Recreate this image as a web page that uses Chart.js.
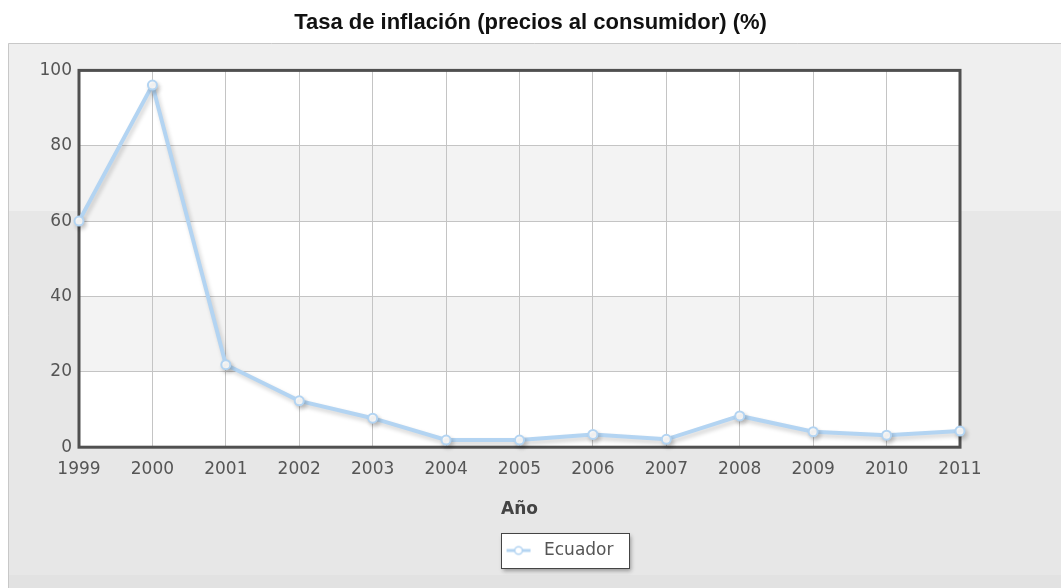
<!DOCTYPE html>
<html>
<head>
<meta charset="utf-8">
<script src="https://cdn.jsdelivr.net/npm/chart.js@4"></script>
<style>
  html, body { margin: 0; padding: 0; background: #fff; }
  #wrap { width: 1061px; height: 588px; position: relative; }
</style>
</head>
<body>
<div id="wrap"><canvas id="inflChart" width="1061" height="588"></canvas></div>
<script>
// Datos del gráfico
const years = ['1999', '2000', '2001', '2002', '2003', '2004', '2005', '2006', '2007', '2008', '2009', '2010', '2011'];
const ecuador = [60.0, 96.1, 21.9, 12.3, 7.7, 1.9, 1.9, 3.4, 2.1, 8.3, 4.1, 3.2, 4.3];
const yTicks = [0, 20, 40, 60, 80, 100];

const lineColor = '#b3d4f2';
const legendShift = 27; // la leyenda no está centrada en el original

// Icono de la leyenda: línea con círculo
function legendIcon() {
  const c = document.createElement('canvas');
  c.width = 26; c.height = 12;
  const g = c.getContext('2d');
  g.strokeStyle = lineColor;
  g.lineWidth = 3;
  g.beginPath(); g.moveTo(1, 6); g.lineTo(25, 6); g.stroke();
  g.fillStyle = '#fff';
  g.lineWidth = 1.5;
  g.beginPath(); g.arc(13, 6, 3.8, 0, Math.PI * 2); g.fill(); g.stroke();
  return c;
}

// Fondo del panel, bandas y borde del área de trazado
const decoPlugin = {
  id: 'deco',
  afterLayout(chart) {
    const lg = chart.legend;
    if (lg) { lg.left += legendShift; lg.right += legendShift; }
  },
  beforeDraw(chart) {
    const ctx = chart.ctx;
    const area = chart.chartArea;
    const y = chart.scales.y;
    ctx.save();
    ctx.fillStyle = '#ffffff';
    ctx.fillRect(0, 0, chart.width, chart.height);
    ctx.fillStyle = '#efefef';
    ctx.fillRect(8, 43, chart.width - 8, 168);
    ctx.fillStyle = '#e7e7e7';
    ctx.fillRect(8, 211, chart.width - 8, 364);
    ctx.fillStyle = '#e2e2e2';
    ctx.fillRect(8, 575, chart.width - 8, chart.height - 575);
    ctx.strokeStyle = '#c8c8c8';
    ctx.lineWidth = 1;
    ctx.beginPath();
    ctx.moveTo(8.5, chart.height); ctx.lineTo(8.5, 43.5); ctx.lineTo(chart.width, 43.5);
    ctx.stroke();
    // área de trazado
    ctx.fillStyle = '#ffffff';
    ctx.fillRect(area.left, area.top, area.right - area.left, area.bottom - area.top);
    ctx.fillStyle = '#f3f3f3';
    [[20, 40], [60, 80]].forEach(b => {
      const t = y.getPixelForValue(b[1]);
      const bt = y.getPixelForValue(b[0]);
      ctx.fillRect(area.left, t, area.right - area.left, bt - t);
    });
    ctx.restore();
  },
  beforeDatasetsDraw(chart) {
    const ctx = chart.ctx;
    const a = chart.chartArea;
    ctx.save();
    ctx.strokeStyle = '#505050';
    ctx.lineWidth = 3;
    ctx.strokeRect(a.left, a.top, a.right - a.left, a.bottom - a.top);
    ctx.restore();
  },
  beforeDatasetDraw(chart) {
    const ctx = chart.ctx;
    ctx.save();
    ctx.shadowColor = 'rgba(0,0,0,0.18)';
    ctx.shadowBlur = 4;
    ctx.shadowOffsetX = 2;
    ctx.shadowOffsetY = 3;
  },
  afterDatasetDraw(chart) {
    chart.ctx.restore();
  },
  afterDraw(chart) {
    // recuadro de la leyenda
    const lg = chart.legend;
    if (!lg || !lg.legendHitBoxes.length) return;
    const hb = lg.legendHitBoxes[0];
    const ctx = chart.ctx;
    const cy = hb.top + hb.height / 2;
    const x = Math.round(hb.left - 1), yTop = Math.round(cy - 17), w = Math.round(hb.width + 16), h = 35;
    ctx.save();
    ctx.shadowColor = 'rgba(0,0,0,0.35)';
    ctx.shadowBlur = 4;
    ctx.shadowOffsetX = 2;
    ctx.shadowOffsetY = 3;
    ctx.fillStyle = '#fff';
    ctx.fillRect(x, yTop, w, h);
    ctx.restore();
    ctx.save();
    ctx.strokeStyle = '#444';
    ctx.lineWidth = 1;
    ctx.strokeRect(x + 0.5, yTop + 0.5, w, h);
    ctx.restore();
    // volver a dibujar la leyenda encima del recuadro
    lg.draw();
  }
};

const ctx = document.getElementById('inflChart').getContext('2d');
new Chart(ctx, {
  type: 'line',
  data: {
    labels: years,
    datasets: [{
      label: 'Ecuador',
      data: ecuador,
      borderColor: lineColor,
      borderWidth: 4,
      backgroundColor: '#fff',
      pointBackgroundColor: '#fff',
      pointBorderColor: lineColor,
      pointBorderWidth: 2,
      pointRadius: 4.5,
      tension: 0,
      clip: false
    }]
  },
  options: {
    responsive: false,
    animation: false,
    events: [],
    layout: { padding: { left: 0, right: 0, top: 0, bottom: 19 } },
    plugins: {
      title: {
        display: true,
        text: 'Tasa de inflación (precios al consumidor) (%)',
        color: '#111',
        font: { family: 'Liberation Sans, Arial, sans-serif', size: 22, weight: 'bold' },
        padding: { top: 10, bottom: 34 }
      },
      legend: {
        position: 'bottom',
        labels: {
          usePointStyle: true,
          pointStyle: legendIcon(),
          pointStyleWidth: 34,
          color: '#555',
          font: { family: 'DejaVu Sans, sans-serif', size: 17 },
          padding: 10
        }
      },
      tooltip: { enabled: false }
    },
    scales: {
      x: {
        type: 'category',
        offset: false,
        grid: { color: '#c4c4c4', lineWidth: 1, drawTicks: false },
        border: { display: false },
        ticks: {
          color: '#555',
          font: { family: 'DejaVu Sans, sans-serif', size: 17 },
          padding: 12,
          maxRotation: 0,
          autoSkip: false
        },
        title: {
          display: true,
          text: 'Año',
          color: '#444',
          font: { family: 'DejaVu Sans, sans-serif', size: 17, weight: 'bold' },
          padding: { top: 8, bottom: 12 }
        }
      },
      y: {
        min: 0,
        max: 100,
        afterBuildTicks(scale) {
          scale.ticks = yTicks.map(v => ({ value: v }));
        },
        afterFit(scale) { scale.width = 79; },
        grid: { color: '#c4c4c4', lineWidth: 1, drawTicks: false },
        border: { display: false },
        ticks: {
          color: '#555',
          font: { family: 'DejaVu Sans, sans-serif', size: 17 },
          padding: 7
        }
      },
      // eje vacío a la derecha para reservar el margen del panel
      yRight: {
        position: 'right',
        min: 0,
        max: 1,
        afterFit(scale) { scale.width = 101; },
        grid: { drawOnChartArea: false, drawTicks: false },
        border: { display: false },
        ticks: { display: false }
      }
    }
  },
  plugins: [decoPlugin]
});
</script>
</body>
</html>
